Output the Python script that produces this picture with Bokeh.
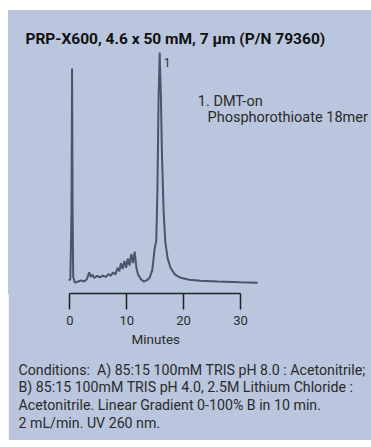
from bokeh.plotting import figure
from bokeh.models import Label, Range1d, FixedTicker, LinearAxis, Title
from bokeh.embed import file_html
from bokeh.resources import INLINE

# ---- data ----
minutes = [-0.2, 0.1, 0.3, 0.4, 0.5, 0.6, 0.9, 1.5, 2.0, 2.5, 3.0, 3.4, 3.7, 4.0, 4.3,
           4.8, 5.3, 5.8, 6.3, 6.8, 7.2, 7.6, 8.0, 8.4, 8.7, 9.0, 9.3, 9.6, 9.9, 10.2,
           10.5, 10.8, 11.1, 11.4, 11.7, 12.0, 12.5, 13.0, 13.5, 14.0, 14.5, 14.9, 15.2,
           15.4, 15.6, 15.8, 16.0, 16.2, 16.5, 16.8, 17.2, 17.7, 18.5, 19.5, 21.0, 23.0,
           26.0, 30.0, 33.0]
signal = [0.5, 1.0, 30.0, 93.0, 30.0, 2.0, -0.5, 0.0, 0.5, 0.0, 1.0, 4.0, 2.0, 3.0, 1.5,
          2.5, 1.8, 2.6, 2.0, 3.2, 2.5, 4.0, 3.0, 6.0, 4.5, 8.0, 5.5, 9.0, 6.0, 10.0,
          7.0, 12.0, 8.0, 13.0, 6.0, 3.0, 1.0, 0.0, 0.5, 1.5, 5.0, 14.0, 18.0,
          40.0, 80.0, 100.0, 82.0, 55.0, 30.0, 17.0, 10.0, 6.0, 3.0, 1.6, 0.8, 0.3,
          0.0, -0.3, -0.5]
x_ticks = [0, 10, 20, 30]
peak_labels = ["1"]
peak_label_pos = [(16.5, 95.6)]

title_text = "PRP-X600, 4.6 x 50 mM, 7 µm (P/N 79360)"
legend_lines = ["1. DMT-on", "Phosphorothioate 18mer"]
axis_title = "Minutes"
condition_lines = [
    "Conditions:\u00a0 A) 85:15 100mM TRIS pH 8.0 : Acetonitrile;",
    "B) 85:15 100mM TRIS pH 4.0, 2.5M Lithium Chloride :",
    "Acetonitrile. Linear Gradient 0-100% B in 10 min.",
    "2 mL/min. UV 260 nm.",
]

BG = "#b9c6de"
FONT = "Roboto"
TXT = "#2b2b2b"

p = figure(width=363, height=430, output_backend="svg", toolbar_location=None,
           x_axis_type=None, y_axis_type=None,
           x_range=Range1d(-10.77, 53.02), y_range=Range1d(-5.24, 118.34),
           min_border_left=0, min_border_right=0, min_border_top=0, min_border_bottom=147,
           margin=(10, 0, 7, 8))
p.background_fill_color = BG
p.border_fill_color = BG
p.outline_line_color = BG
p.outline_line_width = 2
p.grid.visible = False

xaxis = LinearAxis(ticker=FixedTicker(ticks=x_ticks), bounds=(0, 30))
xaxis.axis_line_color = "#222222"
xaxis.axis_line_width = 1.5
xaxis.major_tick_line_color = "#222222"
xaxis.major_tick_line_width = 1.5
xaxis.major_tick_in = 0
xaxis.major_tick_out = 16
xaxis.minor_tick_line_color = None
xaxis.major_label_standoff = 6
xaxis.major_label_text_font = FONT
xaxis.major_label_text_font_size = "13px"
xaxis.major_label_text_color = TXT
p.add_layout(xaxis, "below")

p.add_layout(Title(text=axis_title, align="left", offset=123, standoff=2,
                   text_font=FONT, text_font_size="13.5px", text_font_style="normal",
                   text_color=TXT), "below")
# small spacer between the axis title and the conditions block
p.add_layout(Title(text=" ", align="left", standoff=11, text_font=FONT,
                   text_font_size="1px", text_color=BG), "below")
for i, line in enumerate(condition_lines):
    p.add_layout(Title(text=line, align="left", offset=10, standoff=-3 if i == 0 else 0,
                       text_font=FONT, text_font_size="14.2px", text_font_style="normal",
                       text_color=TXT), "below")

p.line(minutes, signal, line_color="#4a5568", line_width=2)

for txt, (px, py) in zip(peak_labels, peak_label_pos):
    p.add_layout(Label(x=px, y=py, text=txt, text_font=FONT, text_font_size="12px",
                       text_color=TXT, text_baseline="middle"))

p.add_layout(Label(x=-7.8, y=105.7, text=title_text, text_font=FONT,
                   text_font_size="15.5px", text_font_style="bold", text_color="#111111",
                   text_baseline="middle"))
p.add_layout(Label(x=22.5, y=78.6, text=legend_lines[0], text_font=FONT,
                   text_font_size="14.5px", text_color=TXT, text_baseline="middle"))
p.add_layout(Label(x=24.2, y=71.6, text=legend_lines[1], text_font=FONT,
                   text_font_size="14.5px", text_color=TXT, text_baseline="middle"))

open("out.html", "w").write(file_html(p, INLINE))
